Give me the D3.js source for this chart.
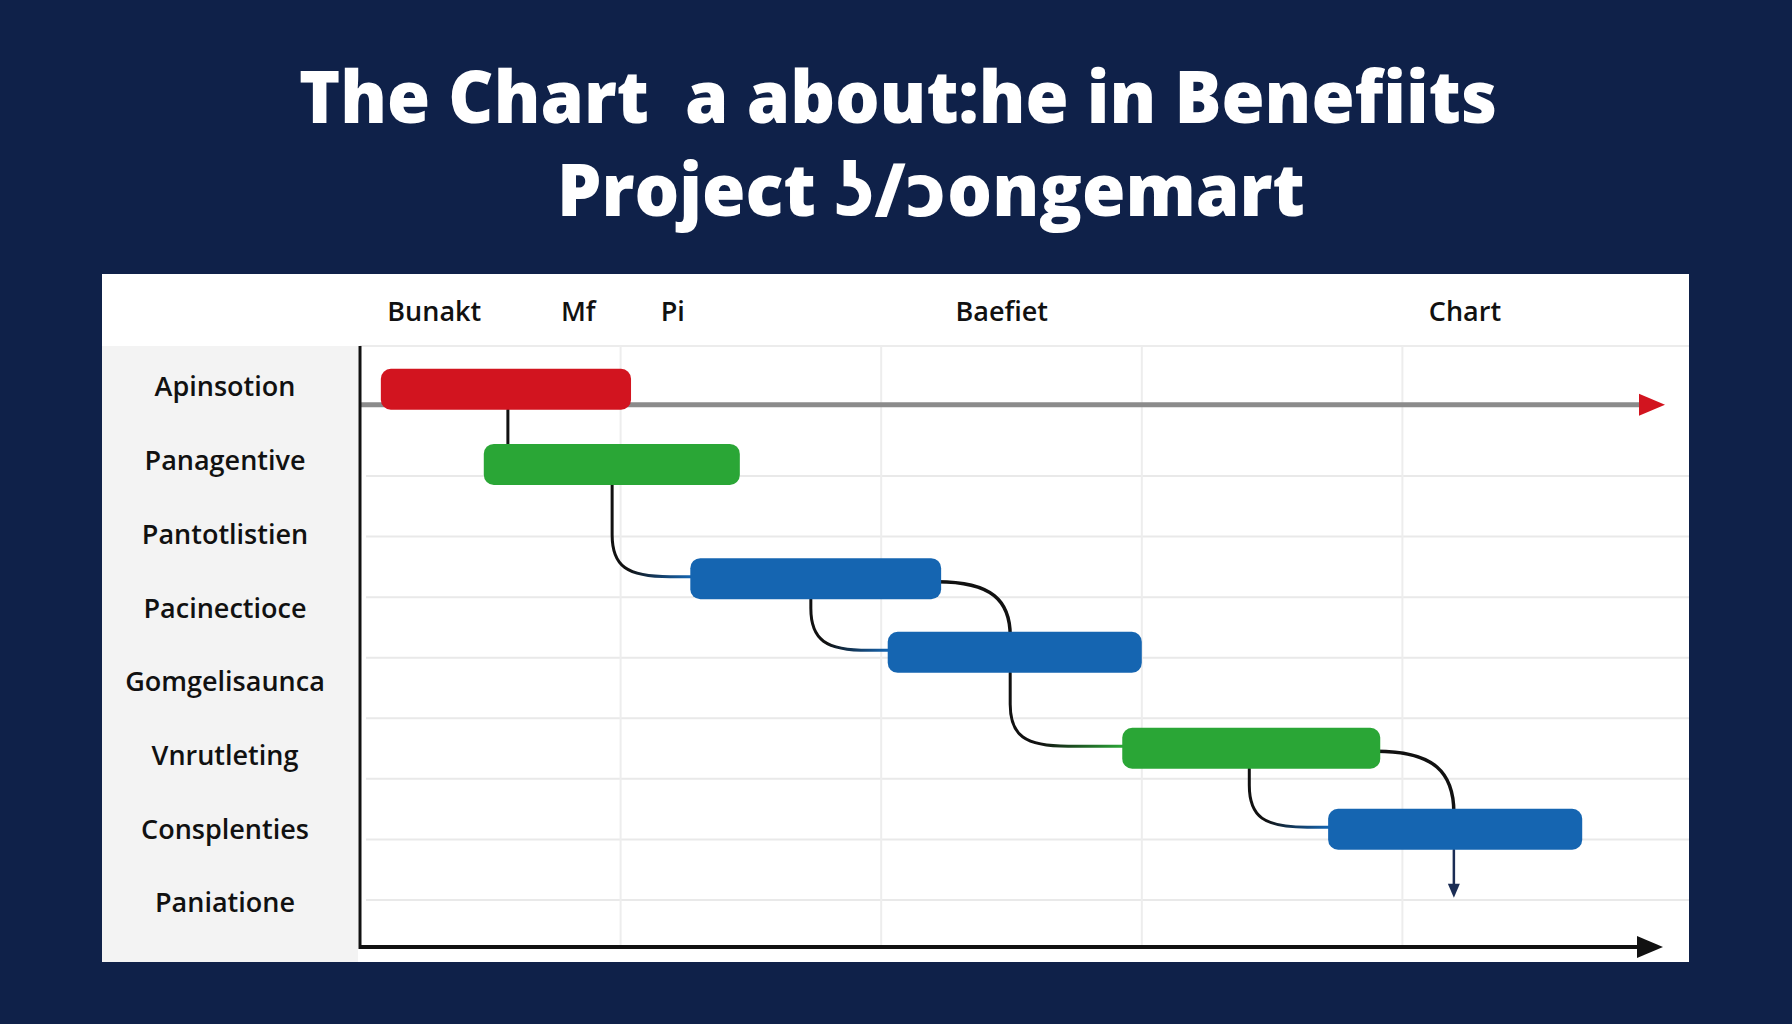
<!DOCTYPE html>
<html><head><meta charset="utf-8">
<script src="https://cdn.jsdelivr.net/npm/d3@7/dist/d3.min.js"></script>
<style>html,body{margin:0;padding:0;background:#0f2149;} svg{display:block} text.title{white-space:pre}</style>
</head><body>
<svg id="c" width="1792" height="1024"></svg>
<script>
// ---------- data ----------
const titleLines = ["The Chart  a about:he in Benefiits", "Project \u0296/\u0254ongemart"];
const headerLabels = ["Bunakt", "Mf", "Pi", "Baefiet", "Chart"];
const headerWeeks = [1.14, 3.35, 4.80, 9.85, 16.96];
const rowLabels = ["Apinsotion", "Panagentive", "Pantotlistien", "Pacinectioce", "Gomgelisaunca", "Vnrutleting", "Consplenties", "Paniatione"];
const rowLanes = [0, 1, 2, 3, 4, 5, 6, 7];
const taskStart = [0.32, 1.90, 5.07, 8.10, 11.70, 14.86];
const taskEnd   = [4.16, 5.83, 8.92, 12.00, 15.66, 18.76];
const taskLane  = [0.03, 1.05, 2.60, 3.60, 4.90, 6.00];
const taskKind  = ["red", "green", "blue", "blue", "green", "blue"];
const gridWeeks = [4, 8, 12, 16];
const gridRows  = [0, 1, 2, 3, 4, 5, 6, 7];
const linkFrom  = [0, 1, 2, 2, 3, 4, 4, 5];
const linkTo    = [1, 2, 3, 3, 4, 5, 5, -1];
const linkType  = ["drop", "elbow", "elbow", "arc", "elbow", "elbow", "arc", "exit"];
const linkWeek  = [2.27, 3.87, 6.92, 9.98, 9.98, 13.65, 16.79, 16.79];
const exitLane  = 6.93;
const baselineLane = 0.24;
const weekDomain = [0, 20];

// ---------- layout / style ----------
const W = 1792, H = 1024;
const panel = {x: 102, y: 274, w: 1587, h: 688};
const plotLeft = 360, plotRight = 1663, plotTop = 346, plotBottom = 947;
const labelColRight = 358;
const barH = 41;
const palette = {red: "#d2141f", green: "#2aa636", blue: "#1565b1"};
const ink = "#111111";

const svg = d3.select("#c");
svg.append("rect").attr("width", W).attr("height", H).attr("fill", "#0f2149");

const x = d3.scaleLinear().domain(weekDomain).range([plotLeft, plotRight]);
const yLane = d3.scaleLinear().domain([0, 7]).range([387, 903]);
const yGrid = d3.scaleLinear().domain([0, 7]).range([476, 900]);

// title
const titleX = [299, 557], titleLen = [1198, 748], titleY = [123, 216];
svg.selectAll("text.title").data(titleLines).join("text")
  .attr("class", "title")
  .attr("x", (d, i) => titleX[i]).attr("y", (d, i) => titleY[i])
  .attr("textLength", (d, i) => titleLen[i]).attr("lengthAdjust", "spacingAndGlyphs")
  .attr("fill", "#ffffff").attr("font-family", "'Open Sans', 'DejaVu Sans', sans-serif")
  .attr("font-weight", 800).attr("font-size", 73).text(d => d);

// panel
svg.append("rect").attr("x", panel.x).attr("y", panel.y).attr("width", panel.w).attr("height", panel.h).attr("fill", "#ffffff");
svg.append("rect").attr("x", panel.x).attr("y", plotTop).attr("width", labelColRight - panel.x).attr("height", panel.y + panel.h - plotTop).attr("fill", "#f3f3f3");
svg.append("line").attr("x1", plotLeft).attr("x2", panel.x + panel.w).attr("y1", plotTop).attr("y2", plotTop)
  .attr("stroke", "#ececec").attr("stroke-width", 2);

// grid
const g = svg.append("g");
g.selectAll("line.hg").data(gridRows).join("line").attr("class", "hg")
  .attr("x1", plotLeft + 6).attr("x2", panel.x + panel.w).attr("y1", d => yGrid(d)).attr("y2", d => yGrid(d))
  .attr("stroke", "#e9e9e9").attr("stroke-width", 2);
g.selectAll("line.vg").data(gridWeeks).join("line").attr("class", "vg")
  .attr("x1", d => x(d)).attr("x2", d => x(d)).attr("y1", plotTop).attr("y2", plotBottom)
  .attr("stroke", "#ededed").attr("stroke-width", 2);

// header labels
svg.selectAll("text.hdr").data(headerLabels).join("text").attr("class", "hdr")
  .attr("x", (d, i) => x(headerWeeks[i])).attr("y", 312).attr("dy", "0.35em")
  .attr("text-anchor", "middle").attr("fill", ink)
  .attr("font-family", "'Open Sans', sans-serif").attr("font-weight", 600).attr("font-size", 27)
  .text(d => d);

// row labels
svg.selectAll("text.row").data(rowLabels).join("text").attr("class", "row")
  .attr("x", 225).attr("y", (d, i) => yLane(rowLanes[i])).attr("dy", "0.35em")
  .attr("text-anchor", "middle").attr("fill", ink)
  .attr("font-family", "'Open Sans', sans-serif").attr("font-weight", 600).attr("font-size", 27)
  .text(d => d);

// baseline timeline with red arrow
const by = yLane(baselineLane);
svg.append("line").attr("x1", plotLeft).attr("x2", x(weekDomain[1]) - 22).attr("y1", by).attr("y2", by)
  .attr("stroke", "#8b8b8b").attr("stroke-width", 5);
svg.append("path").attr("d", `M${x(weekDomain[1]) - 24},${by - 11} L${x(weekDomain[1]) + 2},${by} L${x(weekDomain[1]) - 24},${by + 11} Z`)
  .attr("fill", "#d2141f");

// links
const defs = svg.append("defs");
const lg = svg.append("g").attr("fill", "none").attr("stroke-linecap", "round");
linkFrom.forEach((f, i) => {
  const t = linkTo[i], type = linkType[i];
  const fx = x(linkWeek[i]);
  const fBottom = yLane(taskLane[f]) + barH / 2;
  if (type === "drop") {
    lg.append("path").attr("d", `M${fx},${fBottom} V${yLane(taskLane[t]) - barH / 2}`)
      .attr("stroke", ink).attr("stroke-width", 3);
  } else if (type === "elbow") {
    const yc = yLane(taskLane[t]) - 2, tx = x(taskStart[t]);
    const rx = 58, ry = 42;
    const id = "gr" + i;
    const gr = defs.append("linearGradient").attr("id", id).attr("gradientUnits", "userSpaceOnUse")
      .attr("x1", fx).attr("y1", yc - ry).attr("x2", tx).attr("y2", yc);
    gr.append("stop").attr("offset", 0).attr("stop-color", ink);
    gr.append("stop").attr("offset", 0.35).attr("stop-color", ink);
    gr.append("stop").attr("offset", 1).attr("stop-color", palette[taskKind[t]]);
    lg.append("path").attr("d", `M${fx},${fBottom} V${yc - ry} C${fx},${yc - ry * 0.25} ${fx + rx * 0.25},${yc} ${fx + rx},${yc} H${tx + 4}`)
      .attr("stroke", `url(#${id})`).attr("stroke-width", 3);
  } else if (type === "arc") {
    const xe = x(taskEnd[f]) - 4, yc = yLane(taskLane[f]) + 3;
    const yt = yLane(taskLane[t]) - barH / 2 + 4;
    lg.append("path").attr("d", `M${xe},${yc} C${xe + (fx - xe) * 0.75},${yc} ${fx},${yc + (yt - yc) * 0.35} ${fx},${yt}`)
      .attr("stroke", ink).attr("stroke-width", 3.5);
  } else if (type === "exit") {
    const ye = yLane(exitLane);
    lg.append("path").attr("d", `M${fx},${fBottom} V${ye - 10}`).attr("stroke", "#1b2d55").attr("stroke-width", 2.5);
    svg.append("path").attr("d", `M${fx - 6},${ye - 14} L${fx},${ye} L${fx + 6},${ye - 14} Z`).attr("fill", "#1b2d55");
  }
});

// bars
svg.selectAll("rect.bar").data(taskStart).join("rect").attr("class", "bar")
  .attr("x", (d, i) => x(d)).attr("width", (d, i) => x(taskEnd[i]) - x(d))
  .attr("y", (d, i) => yLane(taskLane[i]) - barH / 2).attr("height", barH)
  .attr("rx", 10).attr("fill", (d, i) => palette[taskKind[i]]);

// axes
svg.append("line").attr("x1", plotLeft).attr("x2", plotLeft).attr("y1", plotTop).attr("y2", plotBottom + 2)
  .attr("stroke", ink).attr("stroke-width", 3);
svg.append("line").attr("x1", plotLeft).attr("x2", x(weekDomain[1]) - 20).attr("y1", plotBottom).attr("y2", plotBottom)
  .attr("stroke", ink).attr("stroke-width", 4);
svg.append("path").attr("d", `M${x(weekDomain[1]) - 26},${plotBottom - 11} L${x(weekDomain[1])},${plotBottom} L${x(weekDomain[1]) - 26},${plotBottom + 11} Z`)
  .attr("fill", ink);
</script>
</body></html>
